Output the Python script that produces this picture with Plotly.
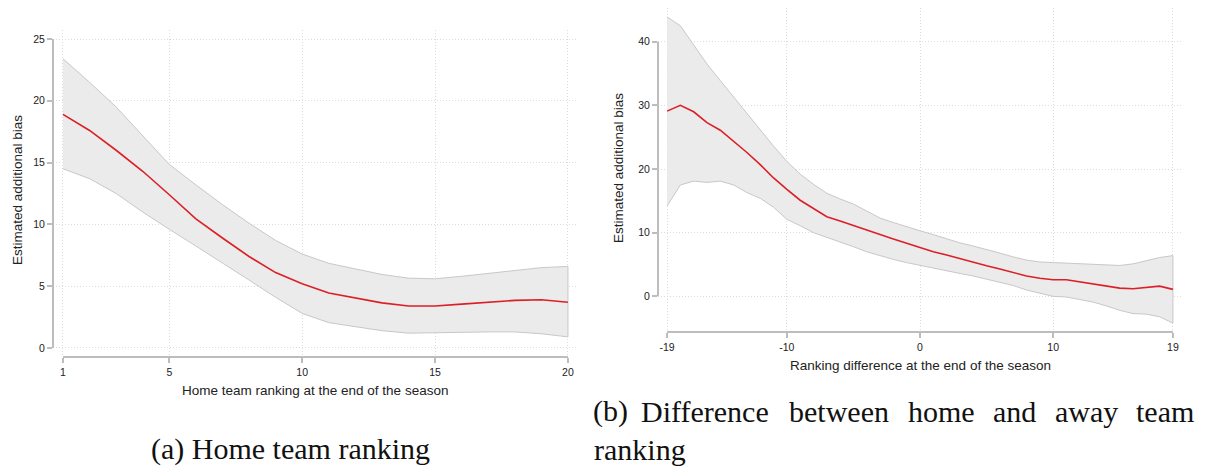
import plotly.graph_objects as go

# page is shown with the browser's default 8px body margin, so the figure
# is a bit smaller than the window and pixel positions are shifted by it
PAGE_MARGIN = 8
W, H = 1205 - PAGE_MARGIN, 466 - PAGE_MARGIN

# (a) estimated additional bias by home team ranking
home_rank = list(range(1, 21))
home_est = [18.9, 17.6, 16.0, 14.3, 12.4, 10.45, 8.9, 7.4, 6.1, 5.2,
            4.45, 4.05, 3.65, 3.4, 3.4, 3.55, 3.7, 3.85, 3.9, 3.7]
home_hi = [23.4, 21.5, 19.5, 17.2, 14.85, 13.2, 11.6, 10.1, 8.7, 7.6,
           6.85, 6.4, 5.95, 5.65, 5.6, 5.8, 6.05, 6.3, 6.5, 6.6]
home_lo = [14.5, 13.7, 12.5, 11.0, 9.6, 8.25, 6.9, 5.5, 4.1, 2.8,
           2.05, 1.75, 1.4, 1.2, 1.2, 1.25, 1.3, 1.3, 1.15, 0.9]
home_xticks = [1, 5, 10, 15, 20]
home_xtext = ["1", "5", "10", "15", "20"]
home_yticks = [0, 5, 10, 15, 20, 25]

# (b) estimated additional bias by ranking difference
diff_rank = list(range(-19, 20))
diff_est = [29.1, 30.0, 29.0, 27.3, 26.1, 24.4, 22.6, 20.7, 18.6, 16.8,
            15.1, 13.8, 12.5, 11.85, 11.1, 10.4, 9.7, 9.0, 8.3, 7.6,
            7.0, 6.5, 5.9, 5.4, 4.8, 4.3, 3.7, 3.2, 2.85, 2.6,
            2.6, 2.3, 2.0, 1.7, 1.3, 1.2, 1.45, 1.6, 1.1]
diff_hi = [43.9, 42.5, 39.5, 36.5, 33.9, 31.3, 28.7, 26.1, 23.6, 21.2,
           19.2, 17.6, 16.2, 15.3, 14.5, 13.4, 12.3, 11.6, 10.9, 10.3,
           9.7, 9.0, 8.4, 7.9, 7.4, 6.8, 6.2, 5.7, 5.4, 5.3,
           5.3, 5.2, 5.1, 5.0, 4.85, 5.1, 5.6, 6.1, 6.4]
diff_lo = [14.2, 17.5, 18.1, 17.9, 18.1, 17.5, 16.3, 15.4, 14.0, 12.1,
           11.1, 10.0, 9.2, 8.5, 7.8, 7.0, 6.4, 5.8, 5.3, 4.8,
           4.4, 4.0, 3.6, 3.2, 2.8, 2.2, 1.7, 1.0, 0.5, 0.0,
           -0.1, -0.5, -0.9, -1.5, -2.2, -2.7, -2.8, -3.2, -4.2]
diff_xticks = [-19, -10, 0, 10, 19]
diff_xtext = ["-19", "-10", "0", "10", "19"]
diff_yticks = [0, 10, 20, 30, 40]

Y_TITLE = "Estimated additional bias"
X_TITLES = ["Home team ranking at the end of the season",
            "Ranking difference at the end of the season"]

RED = "#dc1f26"
BAND_FILL = "#ebebeb"
BAND_EDGE = "#c8c8c8"
AXIS_GRAY = "#bdbdbd"
GRID_GRAY = "#dcdcdc"
SANS = "Liberation Sans, Arial, sans-serif"
SERIF = "Liberation Serif, Times New Roman, serif"


def px_x(p):
    return (p - PAGE_MARGIN) / W


def px_y(p):
    return 1 - (p - PAGE_MARGIN) / H


fig = go.Figure()


def add_panel(xs, est, lo, hi, xaxis, yaxis):
    fig.add_trace(go.Scatter(
        x=xs + xs[::-1], y=hi + lo[::-1], fill="toself",
        fillcolor=BAND_FILL, line=dict(color=BAND_EDGE, width=1),
        mode="lines", hoverinfo="skip", xaxis=xaxis, yaxis=yaxis,
    ))
    fig.add_trace(go.Scatter(
        x=xs, y=est, mode="lines", line=dict(color=RED, width=1.6),
        xaxis=xaxis, yaxis=yaxis,
    ))


add_panel(home_rank, home_est, home_lo, home_hi, "x", "y")
add_panel(diff_rank, diff_est, diff_lo, diff_hi, "x2", "y2")


def axis_style(ticks, rng, domain, anchor, text=None):
    style = dict(
        domain=domain, range=rng, anchor=anchor,
        tickmode="array", tickvals=ticks,
        ticks="outside", ticklen=5, tickwidth=1.5, tickcolor=AXIS_GRAY,
        showline=False, zeroline=False,
        showgrid=True, gridcolor=GRID_GRAY, griddash="1px,2px", gridwidth=1,
        tickfont=dict(family=SANS, size=10.5, color="#222"),
    )
    if text:
        style["ticktext"] = text
    return style


fig.update_layout(
    width=W, height=H, autosize=False,
    margin=dict(l=0, r=0, t=0, b=0),
    paper_bgcolor="white", plot_bgcolor="white",
    showlegend=False,
    xaxis=axis_style(home_xticks, [0.624, 20.34], [px_x(53), px_x(577)], "y", home_xtext),
    yaxis=axis_style(home_yticks, [-0.73, 25.73], [px_y(357), px_y(30)], "x"),
    xaxis2=axis_style(diff_xticks, [-19.68, 19.68], [px_x(658), px_x(1182)], "y2", diff_xtext),
    yaxis2=axis_style(diff_yticks, [-5.6, 45.3], [px_y(332), px_y(8)], "x2"),
)

# Stata-style axis lines covering only the tick span
for xa, ya, xt, yt in [("x", "y", home_xticks, home_yticks),
                       ("x2", "y2", diff_xticks, diff_yticks)]:
    fig.add_shape(type="line", xref=xa, yref=f"{ya} domain",
                  x0=xt[0], x1=xt[-1], y0=0, y1=0,
                  line=dict(color=AXIS_GRAY, width=2))
    fig.add_shape(type="line", xref=f"{xa} domain", yref=ya,
                  x0=0, x1=0, y0=yt[0], y1=yt[-1],
                  line=dict(color=AXIS_GRAY, width=2))


def label(text, x, y, font, angle=0, xanchor="center"):
    fig.add_annotation(text=text, x=px_x(x), y=px_y(y), xref="paper", yref="paper",
                       xanchor=xanchor, yanchor="middle", textangle=angle,
                       showarrow=False, font=font)


title_font = dict(family=SANS, size=13.5, color="#222")
label(Y_TITLE, 18, 190, title_font, angle=-90)
label(Y_TITLE, 619, 168, title_font, angle=-90)
label(X_TITLES[0], 315, 390, title_font)
label(X_TITLES[1], 920, 365, title_font)

# subfigure captions (justified first line of (b) placed word by word)
cap_font = dict(family=SERIF, size=30, color="#111")
label("(a) Home team ranking", 290, 449, cap_font)
cap_b_words = ["(b)", "Difference", "between", "home", "and", "away", "team"]
cap_b_centers = [610, 705, 839, 941, 1014, 1086, 1165]
for word, cx in zip(cap_b_words, cap_b_centers):
    label(word, cx, 411, cap_font)
label("ranking", 592, 449, cap_font, xanchor="left")

fig.write_html("out.html")
